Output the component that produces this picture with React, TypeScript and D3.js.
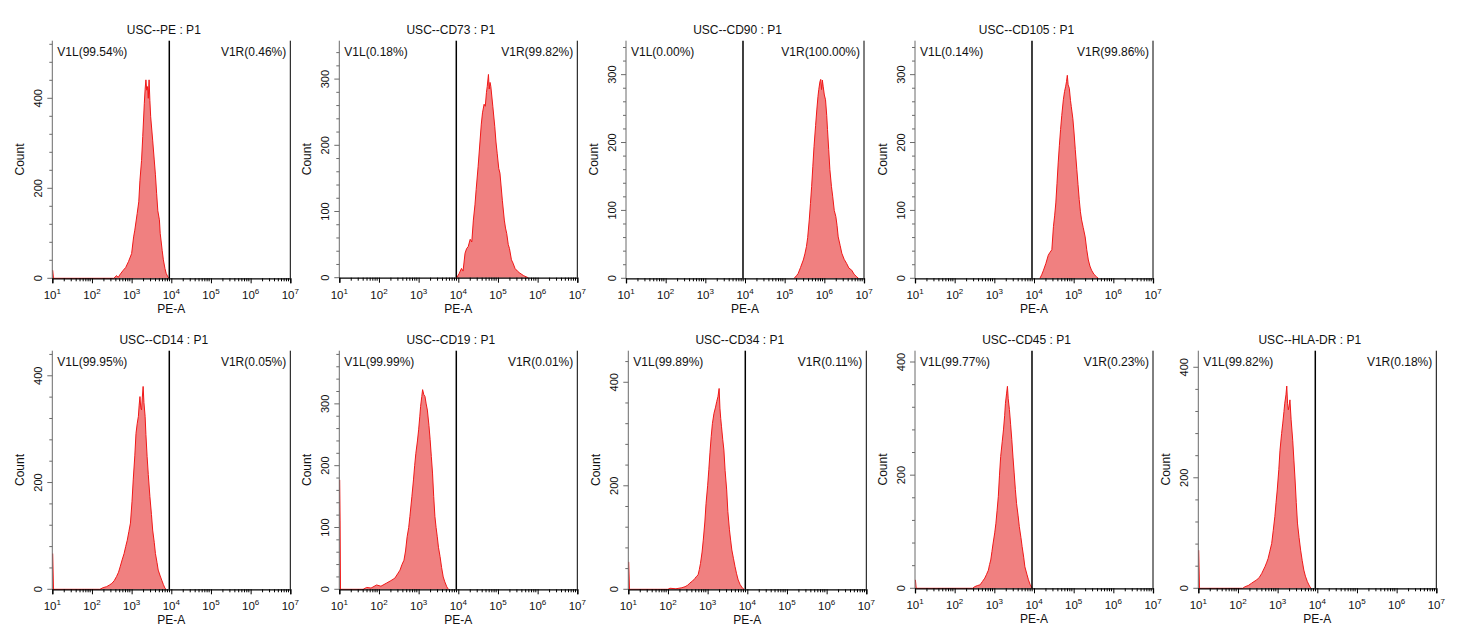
import React, { useEffect, useRef } from 'react';
import * as d3 from 'd3';

// [log10(PE-A), count]
type Pt = [number, number];

const titles = [
  'USC--PE : P1', 'USC--CD73 : P1', 'USC--CD90 : P1', 'USC--CD105 : P1',
  'USC--CD14 : P1', 'USC--CD19 : P1', 'USC--CD34 : P1', 'USC--CD45 : P1', 'USC--HLA-DR : P1',
];
const leftGate = ['V1L(99.54%)', 'V1L(0.18%)', 'V1L(0.00%)', 'V1L(0.14%)', 'V1L(99.95%)', 'V1L(99.99%)', 'V1L(99.89%)', 'V1L(99.77%)', 'V1L(99.82%)'];
const rightGate = ['V1R(0.46%)', 'V1R(99.82%)', 'V1R(100.00%)', 'V1R(99.86%)', 'V1R(0.05%)', 'V1R(0.01%)', 'V1R(0.11%)', 'V1R(0.23%)', 'V1R(0.18%)'];
const yMax = [528, 358, 350, 350, 447, 386, 461, 420, 430];
const yStep = [200, 100, 100, 100, 200, 100, 200, 200, 200];
const xDecades = [1, 2, 3, 4, 5, 6, 7];
const gateValue = 8900;

const pePts: Pt[] = [
  [1.01, 18], [1.03, 0], [2.55, 0], [2.62, 6], [2.66, 2], [2.72, 10], [2.79, 18], [2.85, 24], [2.92, 37], [3.0, 55],
  [3.05, 92], [3.08, 107], [3.14, 144], [3.18, 170], [3.21, 218], [3.25, 262], [3.28, 315], [3.32, 389],
  [3.34, 420], [3.36, 441], [3.38, 418], [3.40, 426], [3.42, 400], [3.44, 441], [3.46, 395], [3.48, 359],
  [3.53, 307], [3.57, 263], [3.60, 230], [3.63, 189], [3.66, 150], [3.70, 130], [3.72, 100], [3.74, 85],
  [3.77, 62], [3.80, 41], [3.84, 22], [3.87, 11], [3.92, 2], [3.95, 0],
];
const cd73Pts: Pt[] = [
  [3.96, 0], [4.02, 6], [4.08, 14], [4.12, 10], [4.17, 37], [4.21, 44], [4.25, 47], [4.30, 58], [4.34, 54],
  [4.38, 87], [4.42, 110], [4.45, 133], [4.50, 168], [4.55, 208], [4.58, 232], [4.61, 249], [4.65, 262],
  [4.68, 259], [4.71, 280], [4.73, 289], [4.76, 307], [4.78, 285], [4.80, 295], [4.82, 289], [4.87, 259],
  [4.92, 228], [4.95, 205], [4.98, 188], [5.02, 165], [5.05, 158], [5.11, 117], [5.16, 87], [5.19, 75],
  [5.22, 67], [5.26, 50], [5.29, 44], [5.34, 27], [5.38, 22], [5.43, 14], [5.49, 10], [5.55, 7], [5.65, 3], [5.76, 0],
];
const cd90Pts: Pt[] = [
  [5.24, 0], [5.30, 4], [5.34, 7], [5.40, 16], [5.47, 27], [5.51, 36], [5.55, 47], [5.58, 60], [5.62, 86],
  [5.65, 110], [5.68, 135], [5.71, 165], [5.74, 194], [5.78, 225], [5.81, 248], [5.84, 268], [5.86, 278],
  [5.89, 290], [5.91, 293], [5.93, 278], [5.95, 292], [5.97, 283], [6.0, 270], [6.03, 263], [6.06, 240],
  [6.08, 219], [6.11, 190], [6.14, 160], [6.18, 135], [6.21, 121], [6.25, 100], [6.29, 91], [6.32, 78],
  [6.35, 61], [6.40, 48], [6.44, 37], [6.50, 28], [6.56, 22], [6.62, 15], [6.69, 12], [6.75, 6], [6.82, 2], [6.86, 0],
];
const cd105Pts: Pt[] = [
  [4.15, 0], [4.20, 6], [4.24, 12], [4.30, 22], [4.36, 34], [4.40, 38], [4.45, 42], [4.49, 76], [4.52, 92],
  [4.55, 111], [4.58, 140], [4.61, 170], [4.64, 196], [4.67, 219], [4.70, 240], [4.74, 263], [4.77, 275],
  [4.80, 283], [4.82, 290], [4.84, 299], [4.86, 285], [4.89, 280], [4.92, 262], [4.94, 253], [4.98, 235],
  [5.01, 214], [5.04, 190], [5.08, 160], [5.11, 138], [5.14, 116], [5.17, 98], [5.20, 86], [5.24, 75],
  [5.29, 61], [5.33, 42], [5.37, 27], [5.41, 18], [5.45, 12], [5.51, 6], [5.58, 2], [5.62, 0],
];
const cd14Pts: Pt[] = [
  [1.01, 67], [1.03, 0], [2.20, 0], [2.28, 3], [2.37, 5], [2.44, 8], [2.50, 11], [2.56, 16], [2.62, 24],
  [2.67, 32], [2.71, 42], [2.76, 55], [2.81, 67], [2.85, 80], [2.89, 92], [2.93, 108], [2.97, 124],
  [3.01, 165], [3.04, 205], [3.08, 250], [3.11, 292], [3.14, 310], [3.17, 324], [3.19, 345], [3.21, 361],
  [3.23, 340], [3.25, 336], [3.27, 360], [3.29, 380], [3.31, 350], [3.34, 324], [3.36, 290], [3.39, 249],
  [3.42, 215], [3.46, 174], [3.50, 140], [3.53, 111], [3.57, 88], [3.60, 67], [3.64, 50], [3.67, 36],
  [3.72, 25], [3.76, 17], [3.80, 9], [3.84, 2], [3.87, 0],
];
const cd19Pts: Pt[] = [
  [1.01, 177], [1.02, 112], [1.03, 0], [1.60, 0], [1.69, 3], [1.80, 2], [1.94, 7], [2.05, 5], [2.19, 10],
  [2.30, 14], [2.40, 18], [2.47, 25], [2.53, 31], [2.58, 40], [2.63, 47], [2.67, 62], [2.71, 85],
  [2.75, 100], [2.78, 118], [2.83, 150], [2.87, 177], [2.90, 200], [2.93, 220], [2.97, 240], [3.00, 258],
  [3.03, 280], [3.05, 296], [3.08, 312], [3.10, 323], [3.13, 315], [3.16, 312], [3.19, 300], [3.22, 290],
  [3.26, 265], [3.29, 242], [3.32, 215], [3.35, 188], [3.38, 150], [3.41, 118], [3.44, 100], [3.47, 85],
  [3.50, 68], [3.54, 53], [3.58, 35], [3.62, 20], [3.66, 12], [3.71, 4], [3.75, 0],
];
const cd34Pts: Pt[] = [
  [1.01, 53], [1.03, 0], [2.0, 0], [2.05, 2], [2.20, 1], [2.35, 3], [2.43, 5], [2.50, 8], [2.55, 12],
  [2.62, 16], [2.68, 21], [2.72, 25], [2.76, 28], [2.79, 38], [2.82, 50], [2.86, 72], [2.89, 95],
  [2.93, 130], [2.96, 166], [3.00, 200], [3.03, 231], [3.06, 265], [3.09, 295], [3.12, 320], [3.16, 340],
  [3.20, 352], [3.23, 363], [3.26, 372], [3.29, 388], [3.31, 350], [3.33, 330], [3.35, 314], [3.38, 290],
  [3.41, 269], [3.44, 230], [3.48, 192], [3.51, 150], [3.55, 115], [3.58, 95], [3.61, 76], [3.65, 60],
  [3.69, 44], [3.73, 30], [3.77, 18], [3.82, 9], [3.88, 2], [3.92, 0],
];
const cd45Pts: Pt[] = [
  [1.01, 15], [1.03, 0], [2.45, 0], [2.51, 3], [2.58, 5], [2.64, 6], [2.70, 12], [2.76, 18], [2.80, 24],
  [2.85, 32], [2.88, 42], [2.91, 50], [2.94, 65], [2.97, 80], [3.01, 98], [3.04, 115], [3.07, 138],
  [3.10, 162], [3.13, 200], [3.16, 233], [3.20, 260], [3.23, 280], [3.26, 305], [3.28, 327], [3.31, 345],
  [3.33, 357], [3.35, 335], [3.38, 316], [3.41, 290], [3.44, 263], [3.47, 232], [3.50, 204], [3.53, 175],
  [3.56, 150], [3.60, 128], [3.63, 109], [3.67, 90], [3.70, 74], [3.74, 55], [3.77, 38], [3.82, 25],
  [3.86, 15], [3.90, 7], [3.94, 2], [3.96, 0],
];
const hlaPts: Pt[] = [
  [1.01, 69], [1.03, 0], [2.12, 0], [2.18, 3], [2.26, 5], [2.34, 9], [2.40, 12], [2.47, 15], [2.54, 20],
  [2.60, 27], [2.64, 33], [2.68, 39], [2.72, 46], [2.76, 54], [2.80, 66], [2.85, 81], [2.89, 105],
  [2.93, 130], [2.96, 155], [2.99, 178], [3.03, 215], [3.06, 250], [3.10, 280], [3.13, 299], [3.16, 320],
  [3.18, 335], [3.21, 350], [3.23, 366], [3.25, 335], [3.27, 323], [3.29, 330], [3.31, 341], [3.34, 305],
  [3.38, 268], [3.41, 232], [3.44, 196], [3.47, 155], [3.50, 118], [3.54, 92], [3.58, 69], [3.62, 50],
  [3.66, 33], [3.70, 22], [3.75, 12], [3.79, 6], [3.82, 2], [3.85, 0],
];
const histograms = [pePts, cd73Pts, cd90Pts, cd105Pts, cd14Pts, cd19Pts, cd34Pts, cd45Pts, hlaPts];

// plot box positions (left edge, top, x-axis y)
const boxLeft = [52.3, 339.3, 626, 915, 52.3, 339.3, 628.3, 915, 1198.3];
const boxTop = [40.7, 40.7, 40.7, 40.7, 350.7, 350.7, 350.7, 350.7, 350.7];
const boxBottom = [278.3, 277.7, 278.3, 278.3, 589.3, 589.3, 589.3, 588.3, 588.3];
const boxWidth = 238;

const FONT = 'Liberation Sans, Arial, Helvetica, sans-serif';

const App: React.FC = () => {
  const svgRef = useRef<SVGSVGElement>(null);

  useEffect(() => {
    if (!svgRef.current) return;
    const root = d3.select(svgRef.current);
    root.selectAll('*').remove();

    histograms.forEach((pts, i) => {
      const left = boxLeft[i];
      const top = boxTop[i];
      const bottom = boxBottom[i];
      const g = root.append('g').attr('transform', `translate(${left},0)`);

      const x = d3.scaleLog().domain([10, 1e7]).range([0, boxWidth]);
      const y = d3.scaleLinear().domain([0, yMax[i]]).range([bottom, top]);

      // histogram
      const area = d3.area<Pt>()
        .x(d => x(Math.pow(10, d[0])))
        .y0(y(0))
        .y1(d => y(d[1]));
      const line = d3.line<Pt>()
        .x(d => x(Math.pow(10, d[0])))
        .y(d => y(d[1]));

      g.append('path')
        .datum(pts)
        .attr('fill', '#F08080')
        .attr('d', area);
      g.append('path')
        .datum(pts)
        .attr('fill', 'none')
        .attr('stroke', '#F01818')
        .attr('stroke-width', 1)
        .attr('stroke-linejoin', 'round')
        .attr('d', line);

      // y axis
      const majors = d3.range(0, yMax[i] + 1, yStep[i]);
      const minors = d3.range(0, yMax[i] + 1, yStep[i] / 5);
      const yAxis = g.append('g');
      yAxis.append('line')
        .attr('x1', 0).attr('x2', 0)
        .attr('y1', top).attr('y2', bottom)
        .attr('stroke', '#6b6b6b').attr('stroke-width', 1);
      yAxis.selectAll('line.minor')
        .data(minors)
        .enter()
        .append('line')
        .attr('class', 'minor')
        .attr('x1', 0)
        .attr('x2', d => (majors.includes(d) ? -5 : -3))
        .attr('y1', d => y(d))
        .attr('y2', d => y(d))
        .attr('stroke', '#6b6b6b');
      yAxis.selectAll('text')
        .data(majors)
        .enter()
        .append('text')
        .attr('transform', d => `translate(-10,${y(d)}) rotate(-90)`)
        .attr('text-anchor', 'middle')
        .attr('font-family', FONT)
        .attr('font-size', 11)
        .attr('fill', '#111')
        .text(d => String(d));
      g.append('text')
        .attr('transform', `translate(-28,${(top + bottom) / 2}) rotate(-90)`)
        .attr('text-anchor', 'middle')
        .attr('font-family', FONT)
        .attr('font-size', 12)
        .attr('fill', '#111')
        .text('Count');

      // x axis
      const xAxis = g.append('g')
        .attr('transform', `translate(0,${bottom})`)
        .call(
          d3.axisBottom(x)
            .tickValues(xDecades.map(k => Math.pow(10, k)))
            .tickSize(5)
            .tickFormat(() => '')
        );
      xAxis.select('.domain').attr('stroke', '#000').attr('stroke-width', 1.3);
      xAxis.selectAll('.tick line').attr('stroke', '#000');
      const minorX: number[] = [];
      xDecades.slice(0, -1).forEach(k => {
        for (let m = 2; m <= 9; m++) minorX.push(m * Math.pow(10, k));
      });
      xAxis.selectAll('line.minor')
        .data(minorX)
        .enter()
        .append('line')
        .attr('class', 'minor')
        .attr('x1', d => x(d)).attr('x2', d => x(d))
        .attr('y1', 0).attr('y2', 3)
        .attr('stroke', '#000');
      const labels = xAxis.selectAll('text.lbl')
        .data(xDecades)
        .enter()
        .append('text')
        .attr('class', 'lbl')
        .attr('x', d => x(Math.pow(10, d)))
        .attr('y', 21)
        .attr('text-anchor', 'middle')
        .attr('font-family', FONT)
        .attr('font-size', 11.5)
        .attr('fill', '#111');
      labels.append('tspan').text('10');
      labels.append('tspan')
        .attr('dy', -5)
        .attr('font-size', 8)
        .text(d => String(d));
      g.append('text')
        .attr('x', boxWidth / 2)
        .attr('y', bottom + 35)
        .attr('text-anchor', 'middle')
        .attr('font-family', FONT)
        .attr('font-size', 12)
        .attr('fill', '#111')
        .text('PE-A');

      // right border
      g.append('line')
        .attr('x1', boxWidth).attr('x2', boxWidth)
        .attr('y1', top).attr('y2', bottom)
        .attr('stroke', '#000').attr('stroke-width', 1);

      // gate
      g.append('line')
        .attr('x1', x(gateValue)).attr('x2', x(gateValue))
        .attr('y1', top).attr('y2', bottom)
        .attr('stroke', '#000').attr('stroke-width', 1.5);
      g.append('text')
        .attr('x', 5)
        .attr('y', top + 15)
        .attr('font-family', FONT)
        .attr('font-size', 12)
        .attr('fill', '#111')
        .text(leftGate[i]);
      g.append('text')
        .attr('x', boxWidth - 4)
        .attr('y', top + 15)
        .attr('text-anchor', 'end')
        .attr('font-family', FONT)
        .attr('font-size', 12)
        .attr('fill', '#111')
        .text(rightGate[i]);

      // title
      g.append('text')
        .attr('x', boxWidth / 2 - 7.5)
        .attr('y', top - 7)
        .attr('text-anchor', 'middle')
        .attr('font-family', FONT)
        .attr('font-size', 12)
        .attr('fill', '#111')
        .text(titles[i]);
    });
  }, []);

  return (
    <div style={{ position: 'absolute', left: 0, top: 0, width: 1465, height: 644, background: '#fff' }}>
      <svg ref={svgRef} width={1465} height={644}></svg>
    </div>
  );
};

export default App;
